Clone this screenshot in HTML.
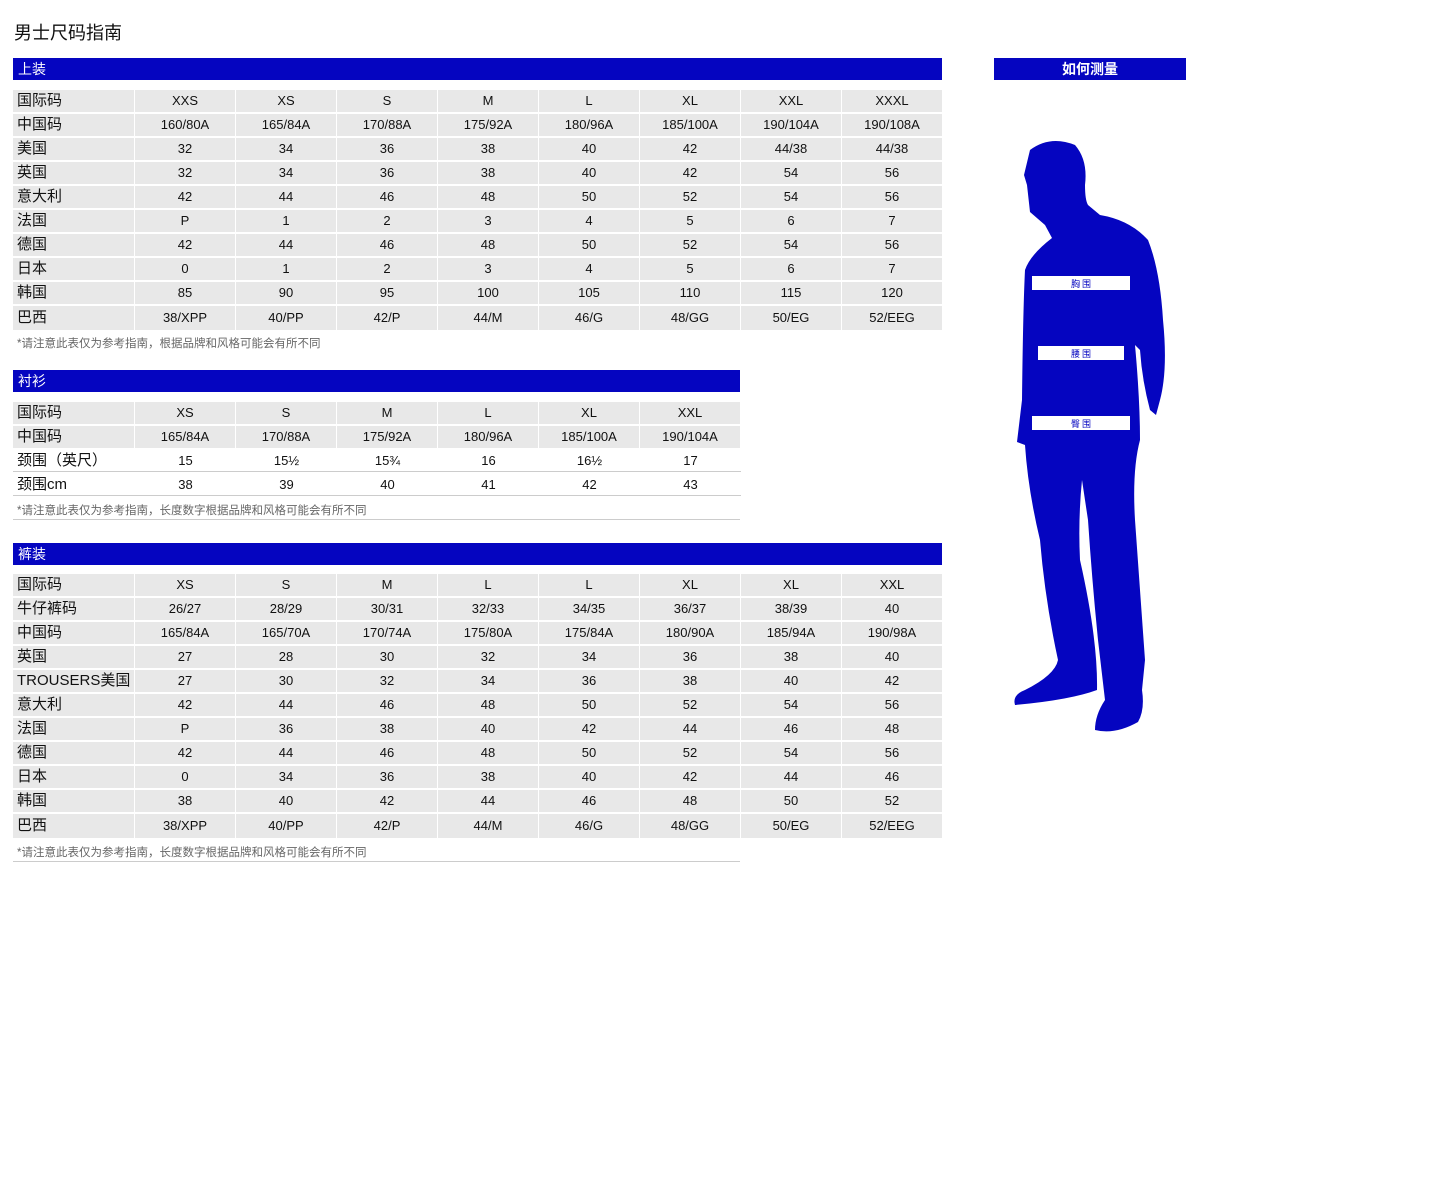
<!DOCTYPE html>
<html><head><meta charset="utf-8">
<style>
body{margin:0;width:1440px;height:1200px;background:#fff;position:relative;font-family:"Liberation Sans","Noto Sans CJK SC",sans-serif;color:#111;overflow:hidden}
.a{position:absolute}
.bar{background:#0505c0;color:#fff;font-size:14px;line-height:22px;height:22px;padding-left:5px;box-sizing:border-box}
.cell{position:absolute;background:#e8e8e8;font-size:13px;text-align:center;box-sizing:border-box}
.lab{text-align:left;padding-left:4px;font-size:15px}
.note{position:absolute;font-size:11.5px;color:#666;left:17px}
.hr{position:absolute;left:13px;height:1px;background:#ccc}
</style></head><body>
<div class="a" style="left:14px;top:19px;font-size:18px">男士尺码指南</div>
<div class="a bar" style="left:13px;top:58px;width:929px">上装</div>
<div class="a bar" style="left:13px;top:370px;width:727px">衬衫</div>
<div class="a bar" style="left:13px;top:543px;width:929px">裤装</div>
<div class="a bar" style="left:994px;top:58px;width:192px;text-align:center;padding:0;font-weight:bold">如何测量</div>
<div class="note" style="top:335px">*请注意此表仅为参考指南，根据品牌和风格可能会有所不同</div>
<div class="note" style="top:502px">*请注意此表仅为参考指南，长度数字根据品牌和风格可能会有所不同</div>
<div class="hr" style="top:519px;width:727px"></div>
<div class="note" style="top:844px">*请注意此表仅为参考指南，长度数字根据品牌和风格可能会有所不同</div>
<div class="hr" style="top:861px;width:727px"></div>
<svg class="a" style="left:0;top:0" width="1440" height="1200">
<path fill="#0505c0" d="M1030,150 Q1050,135 1075,145 Q1088,160 1085,185 Q1085,200 1088,205 L1100,215 Q1130,220 1148,240 Q1160,270 1163,320 Q1168,370 1160,400 L1156,415 L1150,410 Q1142,380 1140,350 L1135,345 Q1140,400 1140,440 Q1132,470 1135,520 L1145,660 L1142,690 Q1145,710 1138,722 Q1115,735 1095,730 Q1095,715 1105,700 L1098,640 Q1092,580 1088,520 L1082,480 Q1078,520 1080,560 Q1098,640 1097,690 Q1070,700 1015,705 Q1012,695 1025,690 Q1055,675 1058,660 Q1045,600 1040,540 Q1028,490 1025,445 L1017,442 L1022,400 Q1023,310 1025,270 Q1030,255 1052,238 L1045,225 L1030,212 L1027,185 L1024,175 Z"/>
<rect x="1032" y="276" width="98" height="14" fill="#fff"/>
<text x="1081" y="287" font-size="9" fill="#0505c0" text-anchor="middle" font-family="Noto Sans CJK SC,sans-serif">胸 围</text>
<rect x="1038" y="346" width="86" height="14" fill="#fff"/>
<text x="1081" y="357" font-size="9" fill="#0505c0" text-anchor="middle" font-family="Noto Sans CJK SC,sans-serif">腰 围</text>
<rect x="1032" y="416" width="98" height="14" fill="#fff"/>
<text x="1081" y="427" font-size="9" fill="#0505c0" text-anchor="middle" font-family="Noto Sans CJK SC,sans-serif">臀 围</text>
</svg>
<script>
const topsRows=[["国际码","XXS","XS","S","M","L","XL","XXL","XXXL"],["中国码","160/80A","165/84A","170/88A","175/92A","180/96A","185/100A","190/104A","190/108A"],["美国","32","34","36","38","40","42","44/38","44/38"],["英国","32","34","36","38","40","42","54","56"],["意大利","42","44","46","48","50","52","54","56"],["法国","P","1","2","3","4","5","6","7"],["德国","42","44","46","48","50","52","54","56"],["日本","0","1","2","3","4","5","6","7"],["韩国","85","90","95","100","105","110","115","120"],["巴西","38/XPP","40/PP","42/P","44/M","46/G","48/GG","50/EG","52/EEG"]];
const shirtRows=[["国际码","XS","S","M","L","XL","XXL"],["中国码","165/84A","170/88A","175/92A","180/96A","185/100A","190/104A"],["颈围（英尺）","15","15½","15¾","16","16½","17"],["颈围cm","38","39","40","41","42","43"]];
const trouserRows=[["国际码","XS","S","M","L","L","XL","XL","XXL"],["牛仔裤码","26/27","28/29","30/31","32/33","34/35","36/37","38/39","40"],["中国码","165/84A","165/70A","170/74A","175/80A","175/84A","180/90A","185/94A","190/98A"],["英国","27","28","30","32","34","36","38","40"],["TROUSERS美国","27","30","32","34","36","38","40","42"],["意大利","42","44","46","48","50","52","54","56"],["法国","P","36","38","40","42","44","46","48"],["德国","42","44","46","48","50","52","54","56"],["日本","0","34","36","38","40","42","44","46"],["韩国","38","40","42","44","46","48","50","52"],["巴西","38/XPP","40/PP","42/P","44/M","46/G","48/GG","50/EG","52/EEG"]];
function build(rows,top,name,whiteFrom){
  rows.forEach((r,i)=>{
    const y=top+i*24;
    r.forEach((t,j)=>{
      const d=document.createElement('div');
      d.className='cell'+(j==0?' lab':'');
      
      
      const x=j==0?13:135+(j-1)*101;
      const w=j==0?121:100;
      const h=(i==rows.length-1&&whiteFrom==null)?24:22;
      d.style.left=x+'px';d.style.top=y+'px';d.style.width=w+'px';d.style.height=h+'px';d.style.lineHeight=h+'px';
      if(whiteFrom!=null&&i>=whiteFrom){d.style.background='#fff';d.style.borderBottom='1px solid #ccc';d.style.width=(j==0?122:101)+'px';}
      d.textContent=t;
      document.body.appendChild(d);
    });
  });
}
build(topsRows,90,'tops');
build(shirtRows,402,'shirts',2);
build(trouserRows,574,'trousers');
</script>
</body></html>
